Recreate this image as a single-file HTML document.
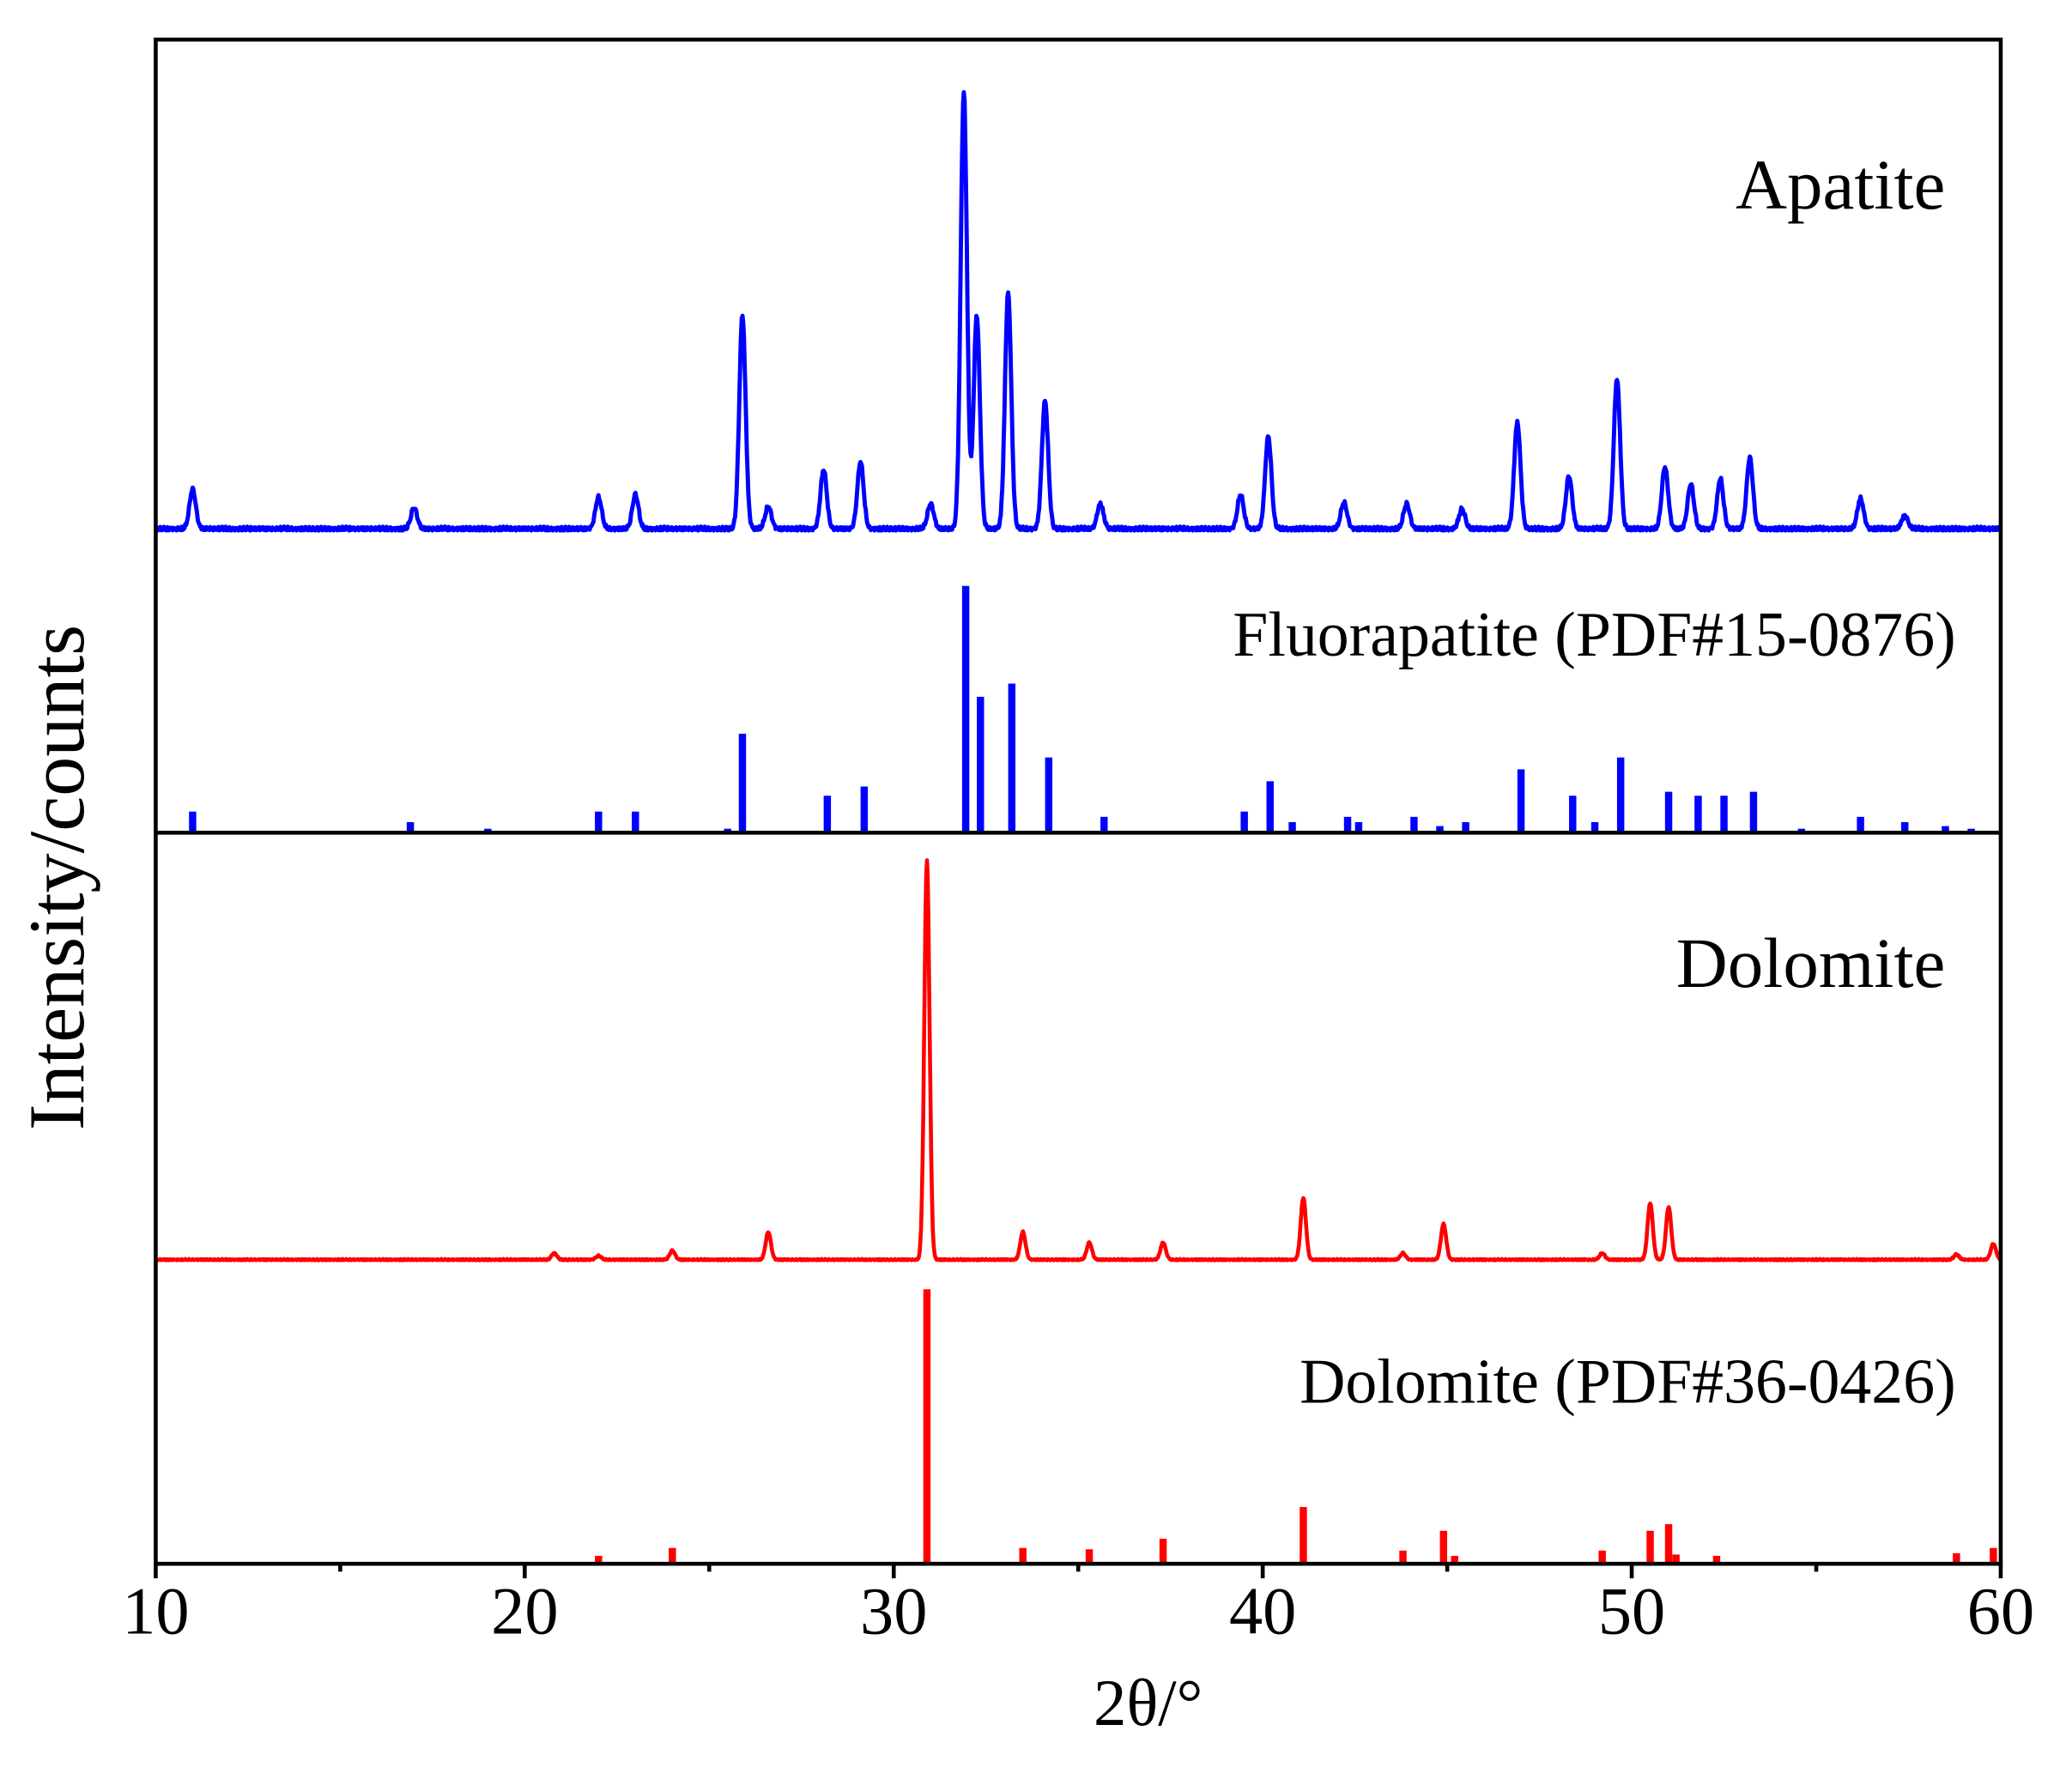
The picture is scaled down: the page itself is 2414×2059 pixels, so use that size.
<!DOCTYPE html>
<html><head><meta charset="utf-8"><style>
html,body{margin:0;padding:0;background:#fff;}
svg{display:block}
text{font-family:"Liberation Serif",serif;fill:#000}
</style></head><body>
<svg id="s" width="2414" height="2059" viewBox="0 0 1570 1339" preserveAspectRatio="none" xmlns="http://www.w3.org/2000/svg">
<rect width="1570" height="1339" fill="#fff"/>
<g id="data"></g>
<g stroke="#000" stroke-width="3" fill="none">
<rect x="118" y="30" width="1398" height="1155"/>
<line x1="118" y1="631" x2="1516" y2="631"/>
<path id="ticks" d=""/>
</g>
<text x="1474" y="158" font-size="54" text-anchor="end">Apatite</text>
<text x="1482" y="497" font-size="48" text-anchor="end">Fluorapatite (PDF#15-0876)</text>
<text x="1474" y="748" font-size="54" text-anchor="end">Dolomite</text>
<text x="1482" y="1063" font-size="48" text-anchor="end">Dolomite (PDF#36-0426)</text>
<g font-size="51" text-anchor="middle">
<text x="118" y="1238">10</text><text x="397.6" y="1238">20</text><text x="677.2" y="1238">30</text>
<text x="956.8" y="1238">40</text><text x="1236.4" y="1238">50</text><text x="1516" y="1238">60</text>
</g>
<text x="870" y="1307" font-size="50" text-anchor="middle">2θ/°</text>
<text transform="translate(63,665) rotate(-90)" font-size="60" text-anchor="middle">Intensity/counts</text>
</svg>
<script>
function X(t){return 118+(t-10)*27.96;}
var g=document.getElementById('data');
function pattern(base,peaks,w,color,noise,sw){
  var d='';
  for(var t=10;t<=60;t+=0.02){
    var y=base;
    for(var i=0;i<peaks.length;i++){var p=peaks[i];var dt=(t-p[0])/w;y-=(base-p[1])*Math.exp(-dt*dt);}
    if(noise) y-=Math.abs(Math.sin(t*97.3)*Math.cos(t*31.7))*noise;
    d+=(d?'L':'M')+X(t).toFixed(1)+' '+y.toFixed(1);
  }
  var p=document.createElementNS('http://www.w3.org/2000/svg','path');
  p.setAttribute('d',d);p.setAttribute('stroke',color);p.setAttribute('stroke-width',sw);p.setAttribute('fill','none');p.setAttribute('stroke-linejoin','round');
  g.appendChild(p);
}
function sticks(base,list,color,w){
  for(var i=0;i<list.length;i++){
    var r=document.createElementNS('http://www.w3.org/2000/svg','rect');
    var x=X(list[i][0]);
    r.setAttribute('x',x-w/2);r.setAttribute('y',list[i][1]);r.setAttribute('width',w);r.setAttribute('height',base-list[i][1]);r.setAttribute('fill',color);
    g.appendChild(r);
  }
}
pattern(402,[[11,372],[17,386],[22,378],[23,376],[25.9,240],[26.6,385],[28.1,357],[29.1,351],[31,383],[31.9,70],[32.25,240],[33.1,223],[34.1,305],[35.6,383],[39.4,376],[40.15,332],[42.2,382],[43.9,383],[45.4,387],[46.9,321],[48.3,362],[49.6,288],[50.9,355],[51.6,368],[52.4,364],[53.2,348],[56.2,379],[57.4,392]],0.12,'#0000ff',3,3.2);
sticks(631,[[11,615],[16.9,623],[19,628],[22,615],[23,615],[25.5,628],[25.9,556],[28.2,603],[29.2,596],[31.95,444],[32.35,528],[33.2,518],[34.2,574],[35.7,619],[39.5,615],[40.2,592],[40.8,623],[42.3,619],[42.6,623],[44.1,619],[44.8,626],[45.5,623],[47,583],[48.4,603],[49,623],[49.7,574],[51,600],[51.8,603],[52.5,603],[53.3,600],[54.6,628],[56.2,619],[57.4,623],[58.5,626],[59.2,628]],'#0000ff',5.5);
pattern(955,[[20.8,950],[22,952],[24,948],[26.6,934],[30.9,652],[33.5,934],[35.3,942],[37.3,942],[41.1,908],[43.8,950],[44.9,928],[49.2,950],[50.5,912],[51,915],[58.8,951],[59.8,943]],0.1,'#ff0000',1,3);
sticks(1185,[[22,1179],[24,1173],[30.9,977],[33.5,1173],[35.3,1174],[37.3,1166],[41.1,1142],[43.8,1175],[44.9,1160],[45.2,1179],[49.2,1175],[50.5,1160],[51,1155],[51.2,1178],[52.3,1179],[58.8,1177],[59.8,1173]],'#ff0000',5.5);
var td='';
for(var t=10;t<=60;t+=5){var x=X(t);td+='M'+x+' 1185L'+x+' '+(t%10==0?1196:1191);}
document.getElementById('ticks').setAttribute('d',td);
</script>
</body></html>
